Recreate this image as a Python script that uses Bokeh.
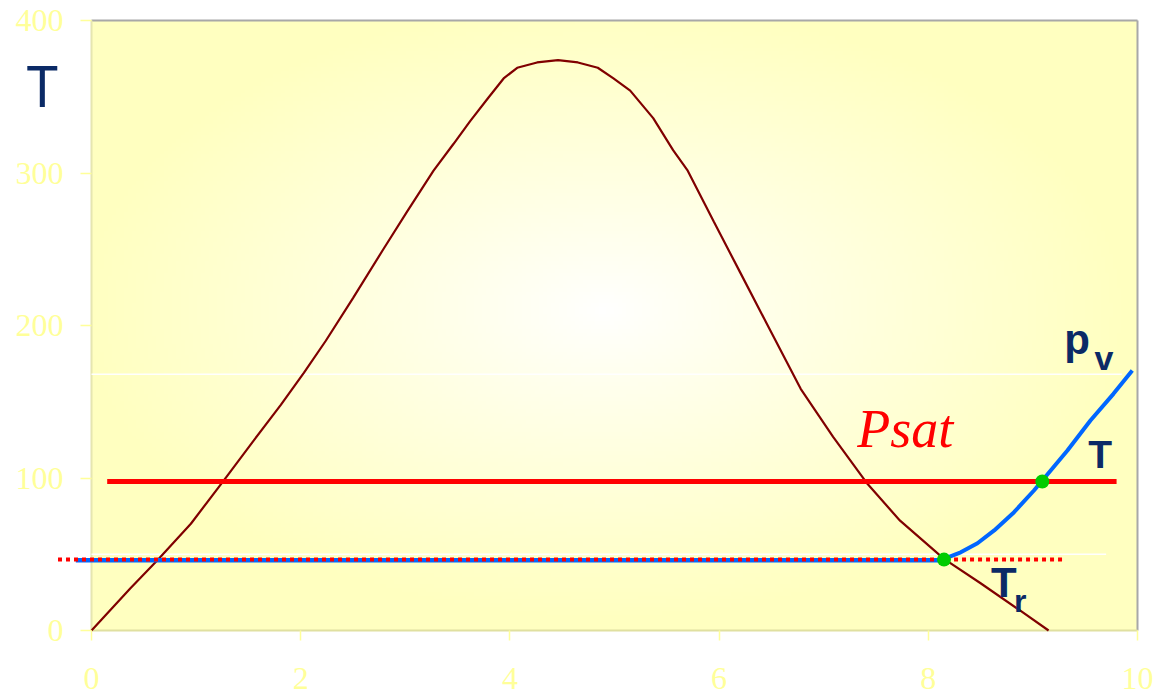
import numpy as np
from bokeh.plotting import figure
from bokeh.models import Range1d, FixedTicker
from bokeh.core.properties import value
from bokeh.embed import file_html
from bokeh.resources import INLINE

# ---------------- data ----------------
sat_x = [0, 0.37, 0.63, 0.95, 1.26, 1.55, 1.81, 2.03, 2.24, 2.5, 2.79, 3.02, 3.27,
         3.46, 3.62, 3.79, 3.94, 4.07, 4.26, 4.46, 4.65, 4.84, 4.99, 5.15, 5.37,
         5.56, 5.70, 5.95, 6.20, 6.45, 6.78, 7.09, 7.42, 7.73, 8.15, 8.5, 8.88, 9.15]
sat_T = [0, 27.5, 46, 70, 98, 124.5, 148, 169, 190, 218, 250, 275, 301.5,
         319, 334, 349, 362, 369, 372.5, 374, 372.5, 369, 362, 354, 336,
         315, 301.5, 268, 235, 202, 158.5, 127, 96, 72, 47, 31, 13, 0]

pv_x = [8.15, 8.31, 8.47, 8.63, 8.82, 9.01, 9.09, 9.33, 9.55, 9.77, 9.95]
pv_T = [47.0, 51.3, 57.2, 65.6, 77.6, 91.8, 98.4, 118.0, 137.7, 155.2, 170.5]

T_line_x = [0.15, 9.80]
T_line_y = [97.7, 97.7]

Tr_line_x = [-0.15, 8.15]
Tr_line_y = [46.0, 46.0]

Tr_dot_x = [-0.32, 9.31]
Tr_dot_y = [46.5, 46.5]

pts_x = [8.15, 9.09]
pts_T = [46.5, 97.7]

guide_T = [168, 50]
guide_xend = [9.85, 9.7]

x_ticks = [0, 2, 4, 6, 8, 10]
y_ticks = [0, 100, 200, 300, 400]

# ---------------- layout ----------------
XMIN, XMAX = 0, 10
YMIN, YMAX = 0, 400
W, H = 1153, 698
sx = 104.6   # px per x unit
sy = 1.525   # px per y unit
FL, FT, FB = 91, 20, 630   # frame left / top / bottom in canvas px
x0 = -FL / sx
x1 = x0 + W / sx
y1 = YMAX + FT / sy
y0 = -(H - FB) / sy

p = figure(width=W, height=H, output_backend="svg", toolbar_location=None,
           x_range=Range1d(x0, x1), y_range=Range1d(y0, y1),
           min_border=0, min_border_left=0, min_border_right=0,
           min_border_top=0, min_border_bottom=0)
p.outline_line_color = None
p.background_fill_color = "white"
p.border_fill_color = "white"
p.grid.visible = False

# gradient background (white centre -> pale yellow edges)
nx, ny = 260, 160
gx = np.linspace(XMIN, XMAX, nx)
gy = np.linspace(YMIN, YMAX, ny)
GX, GY = np.meshgrid(gx, gy)
r = np.sqrt(((GX - 4.9) / 5.3) ** 2 + ((GY - 210) / 215) ** 2)
t = np.clip(r * 1.05, 0, 1) ** 0.9
img = np.empty((ny, nx), dtype=np.uint32)
v = img.view(dtype=np.uint8).reshape((ny, nx, 4))
v[:, :, 0] = 255
v[:, :, 1] = 255
v[:, :, 2] = (255 - 63 * t).astype(np.uint8)
v[:, :, 3] = 255
p.image_rgba(image=[img], x=XMIN, y=YMIN, dw=XMAX - XMIN, dh=YMAX - YMIN)

# frame borders
p.line([XMIN, XMAX], [YMAX, YMAX], line_color="#a8a8a8", line_width=2)
p.line([XMAX, XMAX], [YMIN, YMAX], line_color="#a8a8a8", line_width=2)
p.line([XMIN, XMIN], [YMIN, YMAX], line_color="#e6e6b0", line_width=2)
p.line([XMIN, XMAX], [YMIN, YMIN], line_color="#e0e0a0", line_width=2)

# faint white guide lines
for gT, gxe in zip(guide_T, guide_xend):
    p.line([XMIN, gxe], [gT, gT], line_color="white", line_width=1.5)

# saturation curve
p.line(sat_x, sat_T, line_color="#800000", line_width=2.2)

# lines
p.line(T_line_x, T_line_y, line_color="#ff0000", line_width=5)
p.line(Tr_line_x, Tr_line_y, line_color="#0066ff", line_width=4.5)
p.line(Tr_dot_x, Tr_dot_y, line_color="#ff0000", line_width=4, line_dash="4 4")
p.line(pv_x, pv_T, line_color="#0066ff", line_width=4)
p.scatter(pts_x, pts_T, size=14, fill_color="#00cc00", line_color=None)

# axes
for ax in (p.xaxis[0], p.yaxis[0]):
    ax.fixed_location = 0
    ax.axis_line_color = None
    ax.major_tick_line_color = "#ffff99"
    ax.major_tick_line_width = 1.5
    ax.minor_tick_line_color = None
    ax.major_tick_in = 0
    ax.major_label_text_font = "Liberation Serif"
    ax.major_label_text_font_size = "32px"
    ax.major_label_text_color = "#ffff99"
p.xaxis.ticker = FixedTicker(ticks=x_ticks)
p.yaxis.ticker = FixedTicker(ticks=y_ticks)
p.xaxis.major_tick_out = 10
p.yaxis.major_tick_out = 11
p.xaxis.major_label_standoff = 27
p.yaxis.major_label_standoff = 17

navy = "#0b2a66"
# axis title T
p.text(x=[-0.47], y=[358], text=["T"], text_font=value("Noto Sans"),
       text_font_size="56px", text_color=navy, text_align="center",
       text_baseline="middle")
# p_v
p.text(x=[9.30], y=[191], text=["p"], text_font=value("Liberation Sans"),
       text_font_style="bold", text_font_size="42px", text_color=navy,
       text_baseline="alphabetic")
p.text(x=[9.59], y=[178.5], text=["v"], text_font=value("Liberation Sans"),
       text_font_style="bold", text_font_size="34px", text_color=navy,
       text_baseline="alphabetic")
# T
p.text(x=[9.53], y=[115.5], text=["T"], text_font=value("Liberation Sans"),
       text_font_style="bold", text_font_size="39px", text_color=navy,
       text_baseline="alphabetic")
# T_r
p.text(x=[8.60], y=[31.8], text=["T"], text_font=value("Liberation Sans"),
       text_font_style="bold", text_font_size="42px", text_color=navy,
       text_baseline="alphabetic")
p.text(x=[8.82], y=[19.6], text=["r"], text_font=value("Liberation Sans"),
       text_font_style="bold", text_font_size="32px", text_color=navy,
       text_baseline="alphabetic")
# Psat
p.text(x=[7.32], y=[132], text=["Psat"], text_font=value("Liberation Serif"),
       text_font_style="italic", text_font_size="54px", text_color="#ff0000",
       text_baseline="alphabetic")

open("out.html", "w").write(file_html(p, INLINE))
